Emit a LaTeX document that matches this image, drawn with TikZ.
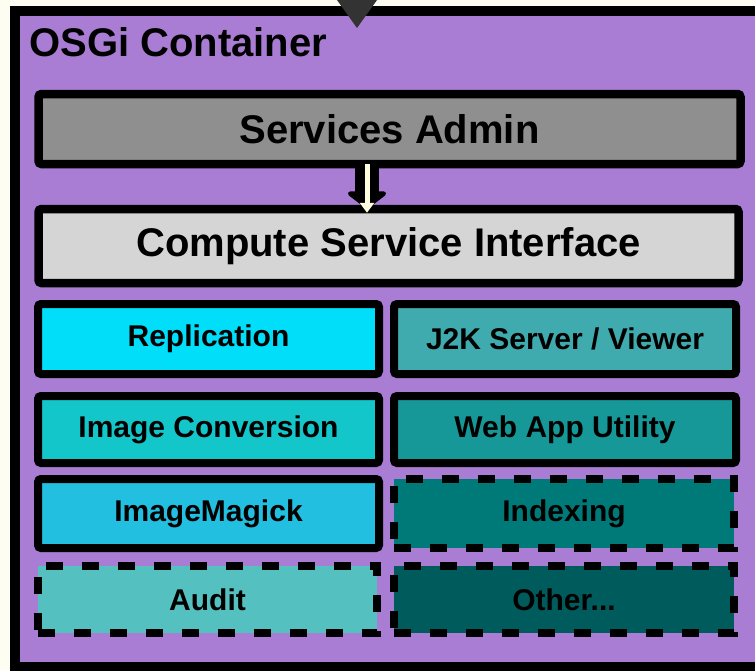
\documentclass[tikz,border=0pt]{standalone}
\usepackage{fontspec}
\setmainfont{Liberation Sans}
\usetikzlibrary{arrows.meta}
\definecolor{bgcream}{HTML}{FDFDF2}
\definecolor{purp}{HTML}{A97DD3}
\definecolor{gsa}{HTML}{8F8F8F}
\definecolor{gcsi}{HTML}{D5D5D5}
\definecolor{cRep}{HTML}{00DEF9}
\definecolor{cJ2K}{HTML}{40ABAE}
\definecolor{cImg}{HTML}{12C6C9}
\definecolor{cWeb}{HTML}{179898}
\definecolor{cMag}{HTML}{22BFE0}
\definecolor{cAud}{HTML}{55C0C0}
\definecolor{cIdx}{HTML}{007A78}
\definecolor{cOth}{HTML}{005C5C}
\definecolor{arrcream}{HTML}{FFFFE0}
\begin{document}
\begin{tikzpicture}[x=1pt,y=-1pt,
  bigbox/.style={draw=black,line width=8.5pt,rounded corners=3pt,inner sep=0pt,
    minimum width=702pt,font=\bfseries\fontsize{40}{42}\selectfont},
  modbox/.style={draw=black,line width=8pt,rounded corners=3pt,inner sep=0pt,
    font=\bfseries\fontsize{30}{32}\selectfont},
  dashbox/.style={modbox,dash pattern=on 17pt off 19pt,rounded corners=0pt}]
\useasboundingbox (0,0) rectangle (755,670);
\fill[bgcream] (0,0) rectangle (755,670);
% container
\draw[line width=10pt,fill=purp] (15,11) rectangle (762,667);
\fill[black!80] (337,0) -- (377,0) -- (357,28) -- cycle;
\node[anchor=base west,font=\bfseries\fontsize{40}{42}\selectfont,inner sep=0pt] (title) at (29,56) {OSGi Container};
% big boxes
\node[bigbox,fill=gsa,minimum height=70pt] (sa) at (389.5,129) {Services Admin};
\node[bigbox,fill=gcsi,minimum width=700pt,minimum height=74pt] (csi) at (388.5,246) {Compute Service Interface};
% modules
\node[modbox,fill=cRep,minimum width=341pt,minimum height=70pt] (rep) at (208.5,339) {Replication};
\node[modbox,fill=cJ2K,minimum width=342pt,minimum height=70pt] (j2k) at (565,339) {J2K Server / Viewer};
\node[modbox,fill=cImg,minimum width=341pt,minimum height=67pt] (img) at (208.5,429.5) {Image Conversion};
\node[modbox,fill=cWeb,minimum width=342pt,minimum height=67pt] (web) at (565,429.5) {Web App Utility};
\node[modbox,fill=cMag,minimum width=341pt,minimum height=69pt] (mag) at (208.5,513.5) {ImageMagick};
\node[dashbox,fill=cIdx,minimum width=340pt,minimum height=69pt] (idx) at (564,513.5) {Indexing};
\node[dashbox,fill=cAud,minimum width=339pt,minimum height=67pt] (aud) at (207.5,599.5) {Audit};
\node[dashbox,fill=cOth,minimum width=340pt,minimum height=67pt] (oth) at (564,599.5) {Other...};
% arrow
\coordinate (ax) at (367,0);
\draw[line width=24pt,-{Triangle[round,width=46pt,length=18pt]}] (sa.south -| ax) -- ([yshift=-4pt]csi.north -| ax);
\draw[arrcream,line width=5pt,-{Triangle[width=14pt,length=10pt]}] ([yshift=4pt]sa.south -| ax) -- ([yshift=-8pt]csi.north -| ax);
\end{tikzpicture}
\end{document}
